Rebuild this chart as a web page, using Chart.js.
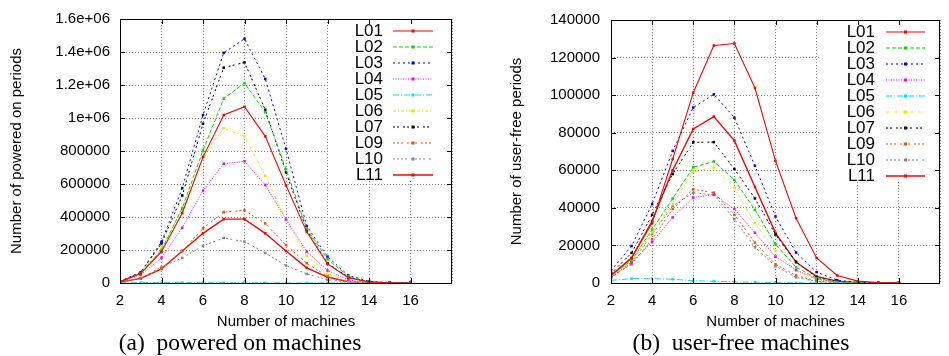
<!DOCTYPE html>
<html>
<head>
<meta charset="utf-8">
<script src="https://cdn.jsdelivr.net/npm/chart.js@4.4.1/dist/chart.umd.min.js"></script>
<style>
  body { margin: 0; background: #fff; width: 949px; height: 356px; position: relative; overflow: hidden; }
  canvas { position: absolute; top: 0; }
  #chartA { left: 0; }
  #chartB { left: 470px; }
  .caption {
    position: absolute; top: 331px; line-height: 23px;
    font-family: "Liberation Serif", "Times New Roman", serif; font-size: 23.5px;
    white-space: pre; transform: translateX(-50%); color: #000;
  }
</style>
</head>
<body>
<canvas id="chartA" width="470" height="356"></canvas>
<canvas id="chartB" width="479" height="356"></canvas>
<div class="caption" style="left:240px">(a)  powered on machines</div>
<div class="caption" style="left:741px">(b)  user-free machines</div>

<script>
// x values (number of machines) and series names
const machines = [2, 3, 4, 5, 6, 7, 8, 9, 10, 11, 12, 13, 14, 15, 16];
const seriesNames = ['L01', 'L02', 'L03', 'L04', 'L05', 'L06', 'L07', 'L09', 'L10', 'L11'];
const xTickValues = [2, 4, 6, 8, 10, 12, 14, 16];

// (a) number of powered on periods
const onL01 = [8000, 58000, 190000, 424000, 763000, 1018000, 1068000, 889000, 592000, 310000, 116000, 32000, 6000, 1000, 0];
const onL02 = [8000, 60000, 200000, 454000, 803000, 1118000, 1211000, 1035000, 690000, 330000, 145000, 40000, 8000, 1000, 0];
const onL03 = [10000, 65000, 250000, 575000, 1018000, 1395000, 1480000, 1237000, 813000, 345000, 160000, 46000, 10000, 2000, 0];
const onL04 = [5000, 50000, 152000, 335000, 560000, 723000, 738000, 594000, 385000, 190000, 76000, 18000, 3000, 500, 0];
const onL05 = [2000, 2500, 2500, 2300, 2000, 1600, 1200, 800, 500, 300, 100, 50, 0, 0, 0];
const onL06 = [8000, 65000, 215000, 440000, 770000, 938000, 889000, 650000, 381000, 165000, 56000, 12000, 2000, 300, 0];
const onL07 = [10000, 65000, 240000, 530000, 965000, 1305000, 1337000, 1050000, 670000, 320000, 120000, 35000, 7000, 1000, 0];
const onL09 = [5000, 28000, 86000, 194000, 331000, 430000, 440000, 361000, 230000, 120000, 40000, 8000, 1500, 200, 0];
const onL10 = [5000, 30000, 96000, 152000, 225000, 273000, 251000, 182000, 106000, 55000, 20000, 5000, 1000, 0, 0];
const onL11 = [5000, 28000, 86000, 194000, 301000, 387000, 387000, 301000, 194000, 92000, 36000, 8000, 1000, 200, 0];

// (b) number of user-free periods
const freeL01 = [4000, 13300, 32000, 66000, 101300, 126400, 127500, 103800, 65000, 34500, 13300, 4000, 1000, 200, 0];
const freeL02 = [4000, 12000, 28400, 45000, 61600, 64700, 54900, 39000, 20600, 8400, 2500, 500, 100, 0, 0];
const freeL03 = [6600, 19700, 42000, 70300, 93400, 100400, 88000, 62400, 35400, 16200, 5800, 1500, 300, 0, 0];
const freeL04 = [3000, 11000, 21800, 34900, 45500, 47100, 39400, 26700, 14000, 7000, 2000, 500, 100, 0, 0];
const freeL05 = [1400, 2300, 2300, 2000, 1200, 900, 600, 400, 200, 100, 0, 0, 0, 0, 0];
const freeL06 = [3500, 12000, 27000, 42000, 59300, 61500, 50700, 31900, 17100, 6500, 2000, 400, 100, 0, 0];
const freeL07 = [5000, 16000, 36300, 58000, 74900, 75000, 60700, 45000, 25800, 11300, 3000, 800, 100, 0, 0];
const freeL09 = [3000, 10000, 23200, 39400, 49900, 48100, 36300, 21500, 10000, 4000, 1000, 200, 0, 0, 0];
const freeL10 = [3000, 11000, 26000, 41000, 48000, 47000, 34000, 19000, 9000, 3000, 800, 200, 0, 0, 0];
const freeL11 = [4000, 13300, 33000, 60000, 82000, 88600, 75800, 51100, 26700, 11000, 3500, 1000, 200, 0, 0];

// gnuplot-like line styles
const lineColors = ['#ff0000', '#00dd00', '#0000ff', '#ff00ff', '#00e5e5', '#e8e800', '#000000', '#ff4d00', '#888888', '#ff0000'];
const lineDashes = [[], [4, 2], [2, 3], [1, 1.5], [6, 2, 1, 2], [3, 2, 1, 2], [2, 2, 2, 4], [2, 2, 2, 2, 2, 4], [2, 2, 2, 2, 2, 2, 2, 4], []];
const lineWidths = [1.1, 1, 1, 1, 1, 1, 1, 1, 1, 1.4];

const FONT = '"Liberation Sans", Arial, sans-serif';

function fmtG(v) {
    if (v >= 1e6) return (Math.round(v / 1e5) / 10) + 'e+06';
    return String(v);
}

// white key box, key entries, frame and inner ticks like gnuplot
const gnuplotFrame = {
    id: 'gnuplotFrame',
    beforeDatasetsDraw(chart, args, opts) {
        const ctx = chart.ctx;
        const a = chart.chartArea;
        ctx.save();
        ctx.fillStyle = '#fff';
        ctx.fillRect(a.right - opts.boxLeft, a.top + 1, opts.boxLeft - opts.boxRight, opts.boxBottom - a.top);
        ctx.restore();
    },
    afterDatasetsDraw(chart, args, opts) {
        const ctx = chart.ctx;
        const a = chart.chartArea;
        const xs = chart.scales.x, ys = chart.scales.y;
        ctx.save();

        // key
        ctx.font = '17px ' + FONT;
        ctx.textAlign = 'right';
        ctx.textBaseline = 'middle';
        chart.data.datasets.forEach((ds, i) => {
            const y = a.top + opts.rowTop + i * opts.rowGap;
            ctx.fillStyle = '#000';
            ctx.fillText(ds.label, a.right - opts.textRight, y);
            ctx.strokeStyle = ds.borderColor;
            ctx.lineWidth = ds.borderWidth;
            ctx.setLineDash(ds.borderDash);
            ctx.beginPath();
            ctx.moveTo(a.right - opts.sampleFrom, y);
            ctx.lineTo(a.right - opts.sampleTo, y);
            ctx.stroke();
            ctx.setLineDash([]);
            ctx.fillStyle = ds.borderColor;
            const mx = a.right - (opts.sampleFrom + opts.sampleTo) / 2;
            ctx.fillRect(mx - 1.5, y - 1.5, 3, 3);
        });

        // frame
        ctx.strokeStyle = '#000';
        ctx.lineWidth = 1;
        ctx.setLineDash([]);
        ctx.strokeRect(Math.round(a.left) + 0.5, Math.round(a.top) + 0.5,
            Math.round(a.right - a.left) - 1, Math.round(a.bottom - a.top));

        // inward ticks on all four sides
        const tl = 5;
        ctx.beginPath();
        xTickValues.forEach(v => {
            const px = Math.round(xs.getPixelForValue(v)) + 0.5;
            ctx.moveTo(px, a.bottom); ctx.lineTo(px, a.bottom - tl);
            ctx.moveTo(px, a.top); ctx.lineTo(px, a.top + tl);
        });
        ys.ticks.forEach(t => {
            const py = Math.round(ys.getPixelForValue(t.value)) + 0.5;
            ctx.moveTo(a.left, py); ctx.lineTo(a.left + tl, py);
            ctx.moveTo(a.right, py); ctx.lineTo(a.right - tl, py);
        });
        ctx.stroke();
        ctx.restore();
    }
};

function makeChart(canvasId, valueLists, yMax, yStep, yTitle, cfg) {
    const datasets = seriesNames.map((name, i) => ({
        label: name,
        data: machines.map((m, j) => ({ x: m, y: valueLists[i][j] })),
        borderColor: lineColors[i],
        backgroundColor: lineColors[i],
        borderDash: lineDashes[i],
        borderWidth: lineWidths[i],
        pointStyle: 'rect',
        pointRadius: 1.8,
        pointBorderWidth: 0,
        pointHoverRadius: 0,
        tension: 0,
        fill: false
    }));

    return new Chart(document.getElementById(canvasId), {
        type: 'line',
        data: { datasets: datasets },
        options: {
            responsive: false,
            animation: false,
            events: [],
            layout: { padding: { top: 15, right: cfg.padRight, left: 0, bottom: 0 } },
            plugins: {
                legend: { display: false },
                tooltip: { enabled: false },
                gnuplotFrame: cfg.key
            },
            scales: {
                x: {
                    type: 'linear',
                    min: 2,
                    max: 18,
                    afterFit: scale => { scale.height = 73; },
                    border: { display: false, dash: [1, 2] },
                    grid: { color: '#8a8a8a', lineWidth: 1, drawTicks: false },
                    ticks: {
                        stepSize: 2,
                        padding: 9,
                        autoSkip: false,
                        maxRotation: 0,
                        color: '#000',
                        font: { family: FONT, size: 15 },
                        callback: v => (v === 18 ? '' : String(v))
                    },
                    title: {
                        display: true,
                        text: 'Number of machines',
                        color: '#000',
                        font: { family: FONT, size: 15 },
                        padding: { top: 0, bottom: 25 }
                    }
                },
                y: {
                    min: 0,
                    max: yMax,
                    afterFit: scale => { scale.width = cfg.yWidth; },
                    border: { display: false, dash: [1, 2] },
                    grid: { color: '#8a8a8a', lineWidth: 1, drawTicks: false },
                    ticks: {
                        stepSize: yStep,
                        padding: cfg.tickPad,
                        color: '#000',
                        font: { family: FONT, size: 15 },
                        callback: v => fmtG(v)
                    },
                    title: {
                        display: true,
                        text: yTitle,
                        color: '#000',
                        font: { family: FONT, size: 15 },
                        padding: { top: cfg.titlePad, bottom: 0 }
                    }
                }
            }
        },
        plugins: [gnuplotFrame]
    });
}

Chart.defaults.elements.line.borderCapStyle = 'butt';

makeChart('chartA',
    [onL01, onL02, onL03, onL04, onL05, onL06, onL07, onL09, onL10, onL11],
    1600000, 200000, 'Number of powered on periods',
    {
        padRight: 18, yWidth: 120, tickPad: 10, titlePad: 8,
        key: { textRight: 69, sampleFrom: 59, sampleTo: 19, rowTop: 12, rowGap: 16, boxLeft: 122, boxRight: 5, boxBottom: 179 }
    });

makeChart('chartB',
    [freeL01, freeL02, freeL03, freeL04, freeL05, freeL06, freeL07, freeL09, freeL10, freeL11],
    140000, 20000, 'Number of user-free periods',
    {
        padRight: 1, yWidth: 141, tickPad: 11, titlePad: 38,
        key: { textRight: 65, sampleFrom: 54, sampleTo: 15, rowTop: 12, rowGap: 16, boxLeft: 120, boxRight: 2, boxBottom: 179 }
    });
</script>
</body>
</html>
